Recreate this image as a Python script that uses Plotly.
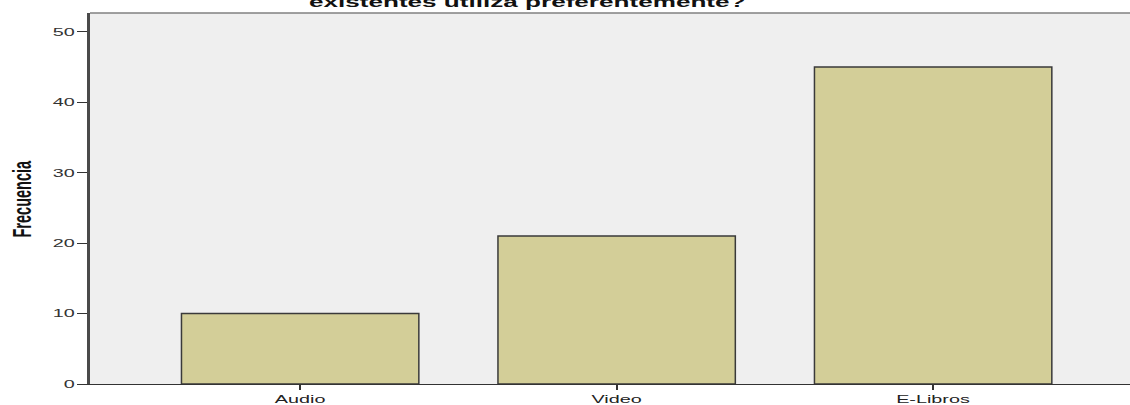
import plotly.graph_objects as go

categories = ["Audio", "Video", "E-Libros"]
frecuencia = [10, 21, 45]
y_ticks = [0, 10, 20, 30, 40, 50]
title_text = "existentes utiliza preferentemente?"
y_title = "Frecuencia"

FONT = "Liberation Sans, Arial, sans-serif"

fig = go.Figure()
fig.add_trace(go.Bar(
    x=categories, y=frecuencia, width=0.75,
    marker=dict(color="#d3ce98", line=dict(color="#3a3a3a", width=1.5)),
    hoverinfo="x+y",
))

fig.update_layout(
    width=1130, height=405,
    margin=dict(l=90, r=0, t=13, b=18),
    paper_bgcolor="white", plot_bgcolor="#efefef",
    showlegend=False,
    font=dict(family=FONT, size=11, color="#222222"),
)
fig.update_xaxes(
    range=[-0.664, 2.622], showgrid=False, zeroline=False,
    showline=True, linecolor="#333333", linewidth=1,
    ticks="outside", ticklen=5, tickcolor="#333333", tickwidth=1.5,
    tickfont=dict(family=FONT, size=11, color="#222222"),
)
fig.update_yaxes(
    range=[0, 52.68], tickvals=y_ticks, showgrid=False, zeroline=False,
    showline=True, linecolor="#4a4a4a", linewidth=3,
    ticks="outside", ticklen=10, tickcolor="#333333", tickwidth=1,
    tickfont=dict(family=FONT, size=11, color="#333333"),
)
fig.add_shape(type="line", xref="paper", yref="paper", x0=0, x1=1, y0=1, y1=1,
              line=dict(color="#808080", width=1.5))
fig.add_annotation(
    text="<b>" + title_text + "</b>", xref="paper", yref="paper",
    x=(527 - 90) / 1040, y=1, xanchor="center", yanchor="bottom", yshift=0.5,
    showarrow=False, font=dict(family=FONT, size=14.5, color="#111111"),
)
fig.add_annotation(
    text="<b>" + y_title + "</b>", xref="paper", yref="paper",
    x=(22 - 90) / 1040, y=0.5, xanchor="center", yanchor="middle", textangle=-90,
    showarrow=False, font=dict(family=FONT, size=14.5, color="#111111"),
)

# The reference image is horizontally stretched (~1.8x); widen the text glyphs
# on screen around their anchor point, and remove the default body margin.
post = """
document.body.style.margin = '0';
var gd = document.getElementById('{plot_id}');
var s = 1.8;
gd.querySelectorAll('svg text').forEach(function(t){
  if (!t.textContent || !t.textContent.trim()) return;
  var r = t.getBoundingClientRect();
  if (r.width === 0) return;
  var anc = t.getAttribute('text-anchor') || 'start';
  var rot = (t.closest('.annotation') && t.closest('.annotation').querySelector('[transform*="rotate"]')) || (t.getAttribute('transform') || '').indexOf('rotate') >= 0;
  var ax;
  if (rot || anc === 'middle') ax = (r.left + r.right) / 2;
  else if (anc === 'end') ax = r.right;
  else ax = r.left;
  var ay = (r.top + r.bottom) / 2;
  var P = t.parentNode.getScreenCTM();
  var S = new DOMMatrix().translate(ax, ay).scale(s, 1).translate(-ax, -ay);
  var Pm = new DOMMatrix([P.a, P.b, P.c, P.d, P.e, P.f]);
  var M = Pm.inverse().multiply(S).multiply(Pm);
  var old = t.getAttribute('transform') || '';
  t.setAttribute('transform', 'matrix(' + [M.a, M.b, M.c, M.d, M.e, M.f].join(',') + ') ' + old);
});
"""

fig.write_html("out.html", post_script=post, config={"displayModeBar": False})
